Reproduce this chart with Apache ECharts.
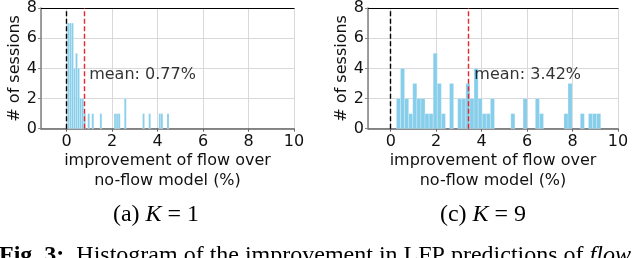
<!DOCTYPE html>
<html>
<head>
<meta charset="utf-8">
<script src="https://cdn.jsdelivr.net/npm/echarts@6/dist/echarts.min.js"></script>
<style>
  html, body { margin: 0; padding: 0; background: #fff; }
  #chart { width: 640px; height: 258px; }
</style>
</head>
<body>
<div id="chart"></div>
<script>
// ---- data ----
// K = 1 histogram (50 bins)
const k1BinStart = 0.03;
const k1BinWidth = 0.0894;
const k1Counts = [7,7,7,4,5,4,2,2,1,0, 1,0,1,0,0,0,1,0,0,0, 0,0,0,1,1,1,0,0,2,0, 0,0,0,0,0,0,0,1,0,0, 1,0,0,0,0,1,1,0,0,1];
const k1Mean = 0.77;
// K = 9 histogram (50 bins)
const k9BinStart = 0.25;
const k9BinWidth = 0.1798;
const k9Counts = [2,4,2,1,3,2,2,1,1,5, 3,1,0,3,0,2,2,3,2,4, 2,1,1,2,0,0,0,0,1,0, 0,2,0,0,2,1,0,0,0,0, 0,1,3,0,0,1,0,1,1,1];
const k9Mean = 3.42;
// axes
const xTickValues = [0, 2, 4, 6, 8, 10];
const yTickValues = [0, 2, 4, 6, 8];
const xAxisTitle = 'improvement of flow over\nno-flow model (%)';
const yAxisTitle = '# of sessions';
const subCaptions = [['(a) ', 'K', ' = 1'], ['(c) ', 'K', ' = 9']];

function binsToData(start, width, counts) {
  const out = [];
  counts.forEach((c, i) => {
    if (c > 0) out.push([start + i * width, start + (i + 1) * width, c]);
  });
  return out;
}

const chart = echarts.init(document.getElementById('chart'), null, { renderer: 'canvas' });
const FONT = 'DejaVu Sans';
const tickColor = '#111';

function makeX(gridIndex, min) {
  return {
    type: 'value', gridIndex: gridIndex, min: min, max: 10, splitNumber: 5,
    axisLine: { show: true, onZero: false, lineStyle: { color: '#666', width: 1.6 } },
    axisTick: { show: true, length: 3, lineStyle: { color: '#666' } },
    axisLabel: {
      show: true, fontFamily: FONT, fontSize: 16, color: tickColor, margin: 5,
      showMinLabel: false,
      formatter: v => (xTickValues.indexOf(v) >= 0 ? String(v) : '')
    },
    splitLine: { show: true, lineStyle: { color: '#d9d9d9', width: 1 } },
    name: xAxisTitle, nameLocation: 'middle', nameGap: 18,
    nameTextStyle: { fontFamily: FONT, fontSize: 16, color: tickColor, lineHeight: 20 }
  };
}
function makeTopX(gridIndex, min) {
  return {
    type: 'value', gridIndex: gridIndex, min: min, max: 10, position: 'top',
    axisLine: { show: true, onZero: false, lineStyle: { color: '#000', width: 1.2 } },
    axisTick: { show: false }, axisLabel: { show: false }, splitLine: { show: false }
  };
}
function makeY(gridIndex) {
  return {
    type: 'value', gridIndex: gridIndex, min: 0, max: 8, interval: 2,
    axisLine: { show: true, onZero: false, lineStyle: { color: '#888', width: 1.6 } },
    axisTick: { show: true, length: 3, lineStyle: { color: '#888' } },
    axisLabel: { fontFamily: FONT, fontSize: 16, color: tickColor, margin: 4,
      formatter: v => (yTickValues.indexOf(v) >= 0 ? String(v) : '') },
    splitLine: { show: true, lineStyle: { color: '#d9d9d9', width: 1 } },
    name: yAxisTitle, nameLocation: 'middle', nameGap: 18, nameRotate: 90,
    nameTextStyle: { fontFamily: FONT, fontSize: 16, color: tickColor }
  };
}

function histSeries(xi, yi, data, mean) {
  return {
    type: 'custom', xAxisIndex: xi, yAxisIndex: yi, data: data,
    renderItem: function (params, api) {
      const p0 = api.coord([api.value(0), 0]);
      const p1 = api.coord([api.value(1), api.value(2)]);
      return {
        type: 'rect',
        shape: { x: p0[0], y: p1[1], width: p1[0] - p0[0], height: p0[1] - p1[1] },
        style: { fill: '#87ceeb', stroke: 'rgba(255,255,255,0.55)', lineWidth: 0.4 }
      };
    },
    markLine: {
      silent: true, symbol: 'none', label: { show: false },
      data: [
        { xAxis: 0, lineStyle: { color: '#000', type: [5, 2.5], width: 1.4 } },
        { xAxis: mean, lineStyle: { color: '#e8262b', type: [5, 2.5], width: 1.4 } }
      ]
    },
    z: 3
  };
}
function meanLabelSeries(xi, yi, mean, textX, textY) {
  return {
    type: 'scatter', xAxisIndex: xi, yAxisIndex: yi, symbolSize: 0,
    data: [[textX, textY]], silent: true, z: 5,
    label: { show: true, position: 'right', distance: 0, fontFamily: FONT, fontSize: 16, color: '#000',
      formatter: 'mean: ' + mean.toFixed(2) + '%' }
  };
}

function captionRich(parts, cx) {
  return {
    type: 'text', x: cx, y: 215,
    style: {
      text: '{a|' + parts[0] + '}{k|' + parts[1] + '}{a|' + parts[2] + '}',
      align: 'center', verticalAlign: 'middle',
      rich: {
        a: { fontFamily: 'Liberation Serif', fontSize: 24, fill: '#000' },
        k: { fontFamily: 'Liberation Serif', fontStyle: 'italic', fontSize: 24, fill: '#000' }
      }
    }
  };
}

chart.setOption({
  animation: false,
  grid: [
    { left: 41, right: 346, top: 6, bottom: 129.3 },
    { left: 368, right: 22, top: 6, bottom: 129.3 }
  ],
  xAxis: [makeX(0, -1.13), makeX(1, -1.0), makeTopX(0, -1.13), makeTopX(1, -1.0)],
  yAxis: [makeY(0), makeY(1)],
  series: [
    histSeries(0, 0, binsToData(k1BinStart, k1BinWidth, k1Counts), k1Mean),
    histSeries(1, 1, binsToData(k9BinStart, k9BinWidth, k9Counts), k9Mean),
    meanLabelSeries(0, 0, k1Mean, 0.99, 3.6),
    meanLabelSeries(1, 1, k9Mean, 3.68, 3.6)
  ],
  graphic: [
    captionRich(subCaptions[0], 156),
    captionRich(subCaptions[1], 483),
    {
      type: 'text', left: -1, top: 244,
      style: {
        text: '{b|Fig. 3:}{n|  Histogram of the improvement in LFP predictions of }{i|flow}',
        rich: {
          b: { fontFamily: 'Liberation Serif', fontWeight: 'bold', fontSize: 24, fill: '#000' },
          n: { fontFamily: 'Liberation Serif', fontSize: 24, fill: '#000' },
          i: { fontFamily: 'Liberation Serif', fontStyle: 'italic', fontSize: 24, fill: '#000' }
        }
      }
    }
  ]
});
</script>
</body>
</html>
